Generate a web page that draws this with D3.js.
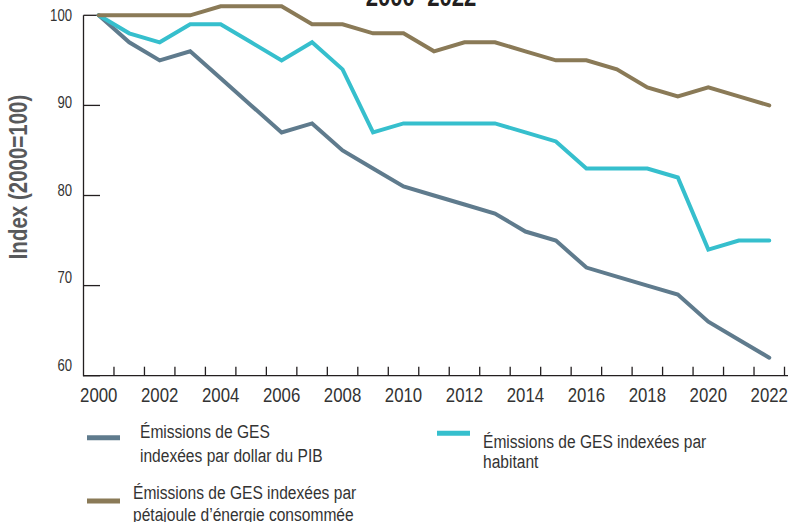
<!DOCTYPE html>
<html>
<head>
<meta charset="utf-8">
<script src="https://cdn.jsdelivr.net/npm/d3@7"></script>
<style>
  body { margin: 0; background: #fff; }
  svg { display: block; }
  text { font-family: "Liberation Sans", Arial, sans-serif; }
</style>
</head>
<body>
<div id="chart"></div>
<script>
// years on the x axis
const years = d3.range(2000, 2023);
const yearLabels = years.filter(y => y % 2 === 0);
const yTicks = [60, 70, 80, 90, 100];

// GHG emissions index, 2000 = 100
const perGdp = [100, 97, 95, 96, 93, 90, 87, 88, 85, 83, 81, 80, 79, 78, 76, 75, 72, 71, 70, 69, 66, 64, 62];
const perCapita = [100, 98, 97, 99, 99, 97, 95, 97, 94, 87, 88, 88, 88, 88, 87, 86, 83, 83, 83, 82, 74, 75, 75];
const perEnergy = [100, 100, 100, 100, 101, 101, 101, 99, 99, 98, 98, 96, 97, 97, 96, 95, 95, 94, 92, 91, 92, 91, 90];

const seriesNames = [
    ["Émissions de GES", "indexées par dollar du PIB"],
    ["Émissions de GES indexées par", "habitant"],
    ["Émissions de GES indexées par", "pétajoule d’énergie consommée"]
];
const seriesColors = ["#5f7b8d", "#36bfcd", "#8a7a57"];

const width = 788, height = 522;
const NARROW = 0.82; // no condensed face installed, so squeeze Liberation Sans
const svg = d3.select("#chart").append("svg").attr("width", width).attr("height", height);

// text placed at (px,py) and squeezed horizontally
function narrowText(parent, px, py, rot) {
    return parent.append("text")
        .attr("transform", `translate(${px},${py})` + (rot ? ` rotate(${rot})` : "") + ` scale(${NARROW},1)`);
}

const x = d3.scaleBand().domain(years).range([83.5, 784.5]).padding(0);
const cx = d => x(d) + x.bandwidth() / 2;
const y = d3.scaleLinear().domain([60, 100]).range([375.7, 15.3]);
// the tick labels sit on a slightly tighter spacing than the ticks
const yLab = d3.scaleLinear().domain([60, 100]).range([365, 15]);

// title (only its last line shows in the frame)
narrowText(svg, 421, 6).attr("text-anchor", "middle")
    .attr("font-size", 27).attr("font-weight", "bold").attr("fill", "#231f20")
    .text("2000–2022");

// y axis label
narrowText(svg, 27, 177, -90)
    .attr("text-anchor", "middle").attr("font-size", 25).attr("font-weight", "bold")
    .attr("fill", "#58595b").text("Index (2000=100)");

// axes
const axis = svg.append("g").attr("stroke", "#231f20").attr("stroke-width", 1.3);
axis.append("line").attr("x1", 83.5).attr("x2", 83.5).attr("y1", y(100)).attr("y2", y(60) + 0.5);
axis.append("line").attr("x1", 83).attr("x2", 788).attr("y1", y(60)).attr("y2", y(60));
axis.selectAll(".ytick").data(yTicks).enter().append("line")
    .attr("x1", 83.5).attr("x2", 100).attr("y1", d => y(d)).attr("y2", d => y(d));
const bandEdges = years.slice(1).map(d => x(d)).concat([x.range()[1]]);
axis.selectAll(".xtick").data(bandEdges).enter().append("line")
    .attr("x1", d => d).attr("x2", d => d).attr("y1", y(60)).attr("y2", y(60) - 9);

yTicks.forEach(v => {
    narrowText(svg, 72, yLab(v)).attr("dy", "0.36em")
        .attr("text-anchor", "end").attr("font-size", 16).attr("fill", "#333")
        .text(v);
});

yearLabels.forEach(v => {
    narrowText(svg, cx(v), 401.5).attr("text-anchor", "middle")
        .attr("font-size", 20.5).attr("fill", "#333").text(v);
});

// lines
const line = d3.line().x((d, i) => cx(years[i])).y(d => y(d));
[perGdp, perCapita, perEnergy].forEach((vals, i) => {
    svg.append("path").datum(vals).attr("d", line).attr("fill", "none")
        .attr("stroke", seriesColors[i]).attr("stroke-width", 4)
        .attr("stroke-linejoin", "miter").attr("stroke-linecap", "round");
});

// legend
const legendPos = [
    {sx: 87, sy: 437.7, tx: 140, ty: 437.7, lh: 24},
    {sx: 437, sy: 433.3, tx: 483, ty: 448.3, lh: 20},
    {sx: 87, sy: 501, tx: 133, ty: 499, lh: 22}
];
seriesNames.forEach((lines, i) => {
    const p = legendPos[i];
    svg.append("line").attr("x1", p.sx).attr("x2", p.sx + 33).attr("y1", p.sy).attr("y2", p.sy)
        .attr("stroke", seriesColors[i]).attr("stroke-width", 5);
    const t = narrowText(svg, p.tx, p.ty).attr("font-size", 19).attr("fill", "#333");
    lines.forEach((s, j) => {
        t.append("tspan").attr("x", 0).attr("y", j * p.lh).text(s);
    });
});
</script>
</body>
</html>
